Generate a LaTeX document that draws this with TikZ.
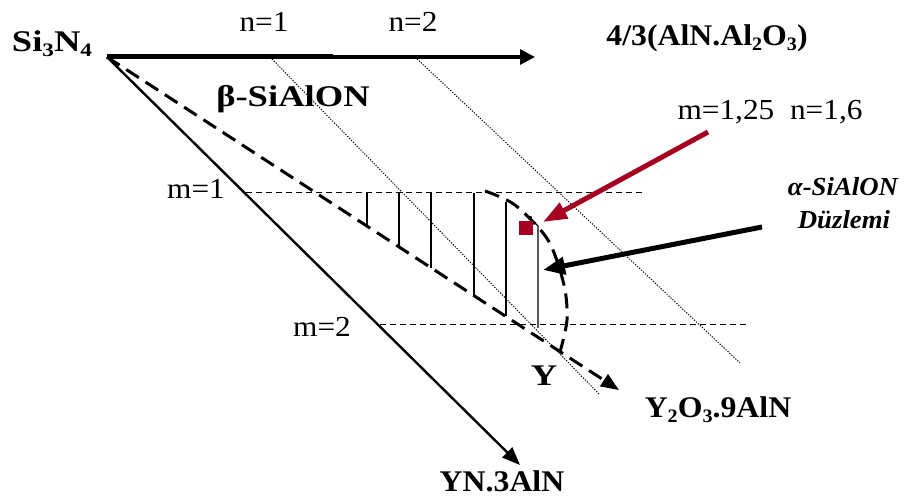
\documentclass[tikz,border=0pt]{standalone}
\usepackage{fontspec}
\setmainfont{Liberation Serif}
\usetikzlibrary{arrows.meta,positioning,calc}
\definecolor{markred}{RGB}{165,0,33}
\newcommand{\chsub}[1]{\raisebox{-0.35ex}{\fontsize{19}{19}\selectfont #1}}

\begin{document}
\begin{tikzpicture}[
  x=1pt, y=-1pt,
  cmp/.style={font=\fontsize{30}{32}\selectfont\bfseries, xscale=1.22, inner sep=0pt},
  formula/.style={font=\fontsize{30}{32}\selectfont\bfseries, xscale=1.06, inner sep=0pt},
  idx/.style={font=\fontsize{29}{31}\selectfont, xscale=1.08, inner sep=0pt},
  plane/.style={font=\fontsize{26}{28}\selectfont\bfseries\itshape, xscale=1.03, inner sep=0pt},
  edge/.style={line width=2.4pt},
  tie/.style={line width=1pt, dash pattern=on 6pt off 4pt},
  bound/.style={line width=3pt, dash pattern=on 15pt off 8pt},
  grid/.style={line width=1pt, dash pattern=on 1.2pt off 1.5pt},
  hatch/.style={line width=1.4pt},
  pointer/.style={line width=5pt}
]
\useasboundingbox (0,0) rectangle (914,502);

% ==================== Corners and tips ====================
\coordinate (si)    at (107,57);
\coordinate (nOne)  at (333,57);
\coordinate (alTip) at (535,57);
\coordinate (ynTip) at (520,465);
\coordinate (yoTip) at (619,390);

% ==================== Labels ====================
\node[cmp] (si3n4) at (52,44) {Si\chsub{3}N\chsub{4}};
\node[formula] (alon)  at (707,38) {4/3(AlN.Al\chsub{2}O\chsub{3})};
\node[cmp] (beta)  at (293,99) {β-SiAlON};
\node[formula] (yn)    at (502,481) {YN.3AlN};
\node[formula] (yo)    at (718,410) {Y\chsub{2}O\chsub{3}.9AlN};
\node[cmp] (ylbl)  at (544,376) {Y};

\node[idx] (n1) at (264,22) {n=1};
\node[idx] (n2) at (413,22) {n=2};
\node[idx] (m1) at (196,189) {m=1};
\node[idx] (m2) at (322,327) {m=2};
\node[idx] (mn) at (770,112) {m=1,25\ \ n=1,6};

\node[plane] (alpha)  at (843,187) {α-SiAlON};
\node[plane] (duz)    at (844,220) {Düzlemi};

% ==================== Composition lines ====================
\draw[line width=5pt] (si) -- (nOne);
\draw[line width=3.2pt, -{Triangle[length=15pt,width=15pt]}] (nOne) -- (alTip);
\draw[edge, -{Triangle[length=18pt,width=14pt]}] (si) -- (ynTip);
\draw[bound, -{Triangle[length=18pt,width=14pt]}] (si) -- (yoTip);

% constant n
\draw[grid] (270,57) -- (600,395);
\draw[grid] (415,57) -- (740,363);

% constant m
\draw[tie] (246,193) -- (645,193);
\draw[tie] (380,325) -- (750,325);

% ==================== alpha-SiAlON region ====================
\foreach \x in {367,399,431,474}
  \draw[hatch] (\x,193) -- (\x,{57+0.65*(\x-107)});
\draw[hatch] (506,202) -- (506,316);
\fill (530,218) circle (2.2pt);
\draw[hatch] (530,218) -- (538,226) -- (538,328);
\draw[bound] plot[smooth] coordinates
  {(485,191) (515,205) (548,240) (564,285) (567,320) (560,352)};

\fill[markred] (519,221) rectangle (533,235);

% ==================== Pointers ====================
\coordinate (redTail) at (708,132);
\coordinate (redTip)  at (543,222);
\coordinate (blkTail) at (762,227);
\coordinate (blkTip)  at (543,270);
\draw[pointer, markred, -{Triangle[length=24pt,width=17pt]}] (redTail) -- (redTip);
\draw[pointer, -{Triangle[length=22pt,width=17pt]}] (blkTail) -- (blkTip);

\end{tikzpicture}
\end{document}
